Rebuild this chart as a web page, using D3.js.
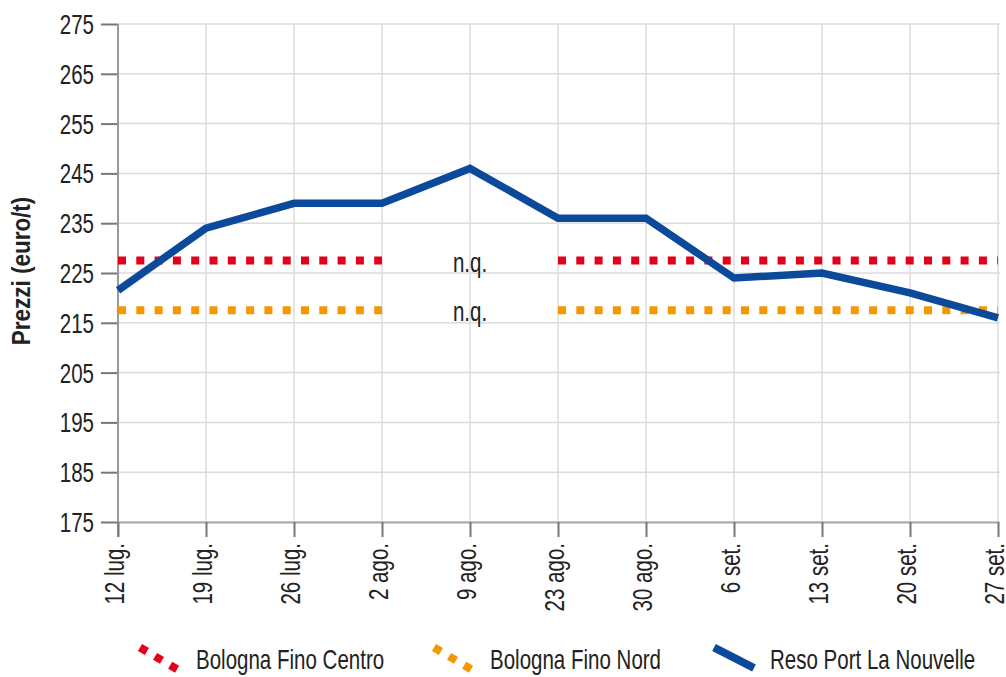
<!DOCTYPE html>
<html>
<head>
<meta charset="utf-8">
<script src="https://cdn.jsdelivr.net/npm/d3@7"></script>
<style>
  html, body { margin: 0; padding: 0; background: #fff; }
  svg { display: block; }
  text { font-family: "Liberation Sans", Arial, sans-serif; fill: #222; }
</style>
</head>
<body>
<svg id="chart" width="1006" height="677"></svg>
<script>
// Weekly dates on the x axis
const categories = ["12 lug.", "19 lug.", "26 lug.", "2 ago.", "9 ago.", "23 ago.", "30 ago.", "6 set.", "13 set.", "20 set.", "27 set."];
// Prices (euro/t); null = not quoted (n.q.)
const centro = [227.5, 227.5, 227.5, 227.5, null, 227.5, 227.5, 227.5, 227.5, 227.5, 227.5];
const nord   = [217.5, 217.5, 217.5, 217.5, null, 217.5, 217.5, 217.5, 217.5, 217.5, 217.5];
const reso   = [221.5, 234, 239, 239, 246, 236, 236, 224, 225, 221, 216];
const yTicks = [175, 185, 195, 205, 215, 225, 235, 245, 255, 265, 275];
const seriesNames = ["Bologna Fino Centro", "Bologna Fino Nord", "Reso Port La Nouvelle"];
const naLabel = "n.q.";
const yTitle = "Prezzi (euro/t)";

const FS = 27, SX = 0.76;   // condensed look: squeeze the glyphs horizontally
const svg = d3.select("#chart");

const x = d3.scalePoint().domain(categories).range([118, 998]);
const y = d3.scaleLinear().domain([175, 275]).range([522, 24]);

// grid
const grid = svg.append("g");
grid.selectAll("line.h").data(yTicks).join("line")
  .attr("x1", 118).attr("x2", 1000)
  .attr("y1", d => y(d)).attr("y2", d => y(d))
  .attr("stroke", "#dcdcdc").attr("stroke-width", 1.5);
grid.selectAll("line.v").data(categories).join("line")
  .attr("x1", d => x(d)).attr("x2", d => x(d))
  .attr("y1", y(275)).attr("y2", y(175))
  .attr("stroke", "#dcdcdc").attr("stroke-width", 1.5);

// y axis
const yAxis = svg.append("g").attr("transform", "translate(118,0)")
  .call(d3.axisLeft(y).tickValues(yTicks).tickSize(17).tickPadding(7).tickSizeOuter(0));
yAxis.select(".domain").remove();
yAxis.selectAll(".tick line").attr("stroke", "#777").attr("stroke-width", 2);
yAxis.selectAll(".tick text")
  .attr("x", null).attr("dy", null)
  .attr("transform", "translate(-24,9.5) scale(" + SX + ",1)")
  .style("font-size", FS + "px").style("font-family", null).attr("fill", "#222");
svg.append("line").attr("x1", 118).attr("x2", 118).attr("y1", 24).attr("y2", 537)
  .attr("stroke", "#999").attr("stroke-width", 2);

// x axis
const xAxis = svg.append("g").attr("transform", "translate(0," + y(175) + ")")
  .call(d3.axisBottom(x).tickSize(15).tickSizeOuter(0));
xAxis.select(".domain").attr("stroke", "#aaa").attr("stroke-width", 2);
xAxis.selectAll(".tick line").attr("stroke", "#777").attr("stroke-width", 2);
xAxis.selectAll(".tick text")
  .attr("x", null).attr("y", null).attr("dy", null)
  .attr("text-anchor", "end")
  .attr("transform", "translate(5.5,21) rotate(-90) scale(" + SX + ",1)")
  .style("font-size", FS + "px").style("font-family", null).attr("fill", "#222");

// y title
svg.append("text")
  .attr("transform", "translate(30,271) rotate(-90) scale(0.9,1)")
  .attr("text-anchor", "middle")
  .style("font-size", "25px").style("font-weight", "bold")
  .text(yTitle);

// dotted reference series
const colors = ["#e2001a", "#f39800", "#0b4a9b"];
const line = d3.line().defined(d => d != null).x((d, i) => x(categories[i])).y(d => y(d));

[centro, nord].forEach((s, k) => {
  svg.append("path").datum(s)
    .attr("d", line)
    .attr("fill", "none")
    .attr("stroke", colors[k]).attr("stroke-width", 8)
    .attr("stroke-dasharray", "8,10.3");
  s.forEach((v, i) => {
    if (v == null) {
      const ref = s.find(d => d != null);
      svg.append("text")
        .attr("transform", "translate(" + x(categories[i]) + "," + (y(ref) + 11) + ") scale(" + SX + ",1)")
        .attr("text-anchor", "middle")
        .style("font-size", FS + "px")
        .text(naLabel);
    }
  });
});

// main price line
svg.append("path").datum(reso)
  .attr("d", line)
  .attr("fill", "none")
  .attr("stroke", colors[2]).attr("stroke-width", 7.5)
  .attr("stroke-linejoin", "miter");

// legend
const legendX = [140, 434, 714];
const lg = svg.append("g");
seriesNames.forEach((name, k) => {
  const x0 = legendX[k];
  const sw = lg.append("line")
    .attr("x1", x0).attr("y1", 647.5)
    .attr("x2", x0 + 40).attr("y2", k < 2 ? 671 : 668)
    .attr("stroke", colors[k]).attr("stroke-width", 8);
  if (k < 2) sw.attr("stroke-dasharray", "8,9.5");
  lg.append("text")
    .attr("transform", "translate(" + (x0 + 56) + ",669) scale(" + SX + ",1)")
    .style("font-size", FS + "px")
    .text(name);
});
</script>
</body>
</html>
